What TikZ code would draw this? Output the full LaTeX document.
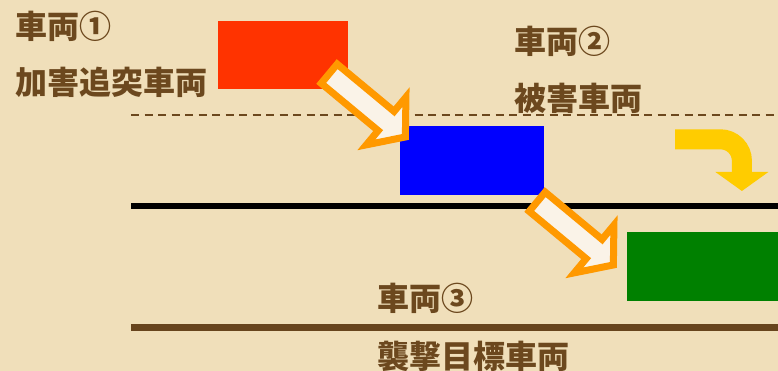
\documentclass[tikz,border=0pt]{standalone}
\usepackage{fontspec}
\newfontfamily\jpfont{Noto Sans CJK JP}
\usetikzlibrary{arrows.meta}

\definecolor{paper}{RGB}{240,223,186}
\definecolor{inkbrown}{RGB}{108,72,30}
\definecolor{carred}{RGB}{255,51,0}
\definecolor{carblue}{RGB}{0,0,255}
\definecolor{cargreen}{RGB}{0,128,0}
\definecolor{hitorange}{RGB}{255,153,0}
\definecolor{hitfill}{RGB}{250,243,232}
\definecolor{turnyellow}{RGB}{255,204,0}

\tikzset{
    cartext/.style={font=\jpfont\bfseries\fontsize{32}{32}\selectfont,
        text=inkbrown, inner sep=0pt, anchor=west},
    carbox/.style={inner sep=0pt, anchor=north west},
    hitarrow/.pic={
        \draw[line width=7pt, hitorange, fill=hitfill, line join=miter]
            (3.5,12.5) -- (77.5,12.5) -- (77.5,31) -- (102.5,0)
            -- (77.5,-31) -- (77.5,-12.5) -- (3.5,-12.5) -- cycle;
    }
}

\begin{document}
\begin{tikzpicture}[x=1pt, y=-1pt]
    \fill[paper] (0,0) rectangle (778,371);
    \useasboundingbox (0,0) rectangle (778,371);

    % lanes
    \draw[inkbrown, line width=2pt, dash pattern=on 8pt off 5.5pt] (131,115) -- (778,115);
    \draw[black, line width=5.5pt] (131,206) -- (778,206);
    \draw[inkbrown!95!black, line width=7pt] (131,327) -- (778,327);

    % cars
    \node[carbox, fill=carred, minimum width=130pt, minimum height=68pt] (car1) at (218,21) {};
    \node[carbox, fill=carblue, minimum width=144pt, minimum height=69pt] (car2) at (400,126) {};
    \node[carbox, fill=cargreen, minimum width=151pt, minimum height=69pt] (car3) at (627,232) {};

    % collisions
    \pic (hit1) [rotate=-39.7] at (326.5,71.5) {hitarrow};
    \pic (hit2) [rotate=-39.7] at (534.5,199.5) {hitarrow};

    % swerve
    \draw[turnyellow, line width=20pt, -{Triangle[width=52pt, length=19pt]}]
        (675,139.3) -- (720.4,139.3) arc[start angle=-90, end angle=0, radius=21.5] -- (741.9,191);

    % labels
    \node[cartext] (car1no) at (15,26) {車両①};
    \node[cartext] (car1role) at (15,82.5) {加害追突車両};
    \node[cartext] (car2no) at (514,41) {車両②};
    \node[cartext] (car2role) at (514,98) {被害車両};
    \node[cartext] (car3no) at (377,298) {車両③};
    \node[cartext] (car3role) at (377,356) {襲撃目標車両};
\end{tikzpicture}
\end{document}
